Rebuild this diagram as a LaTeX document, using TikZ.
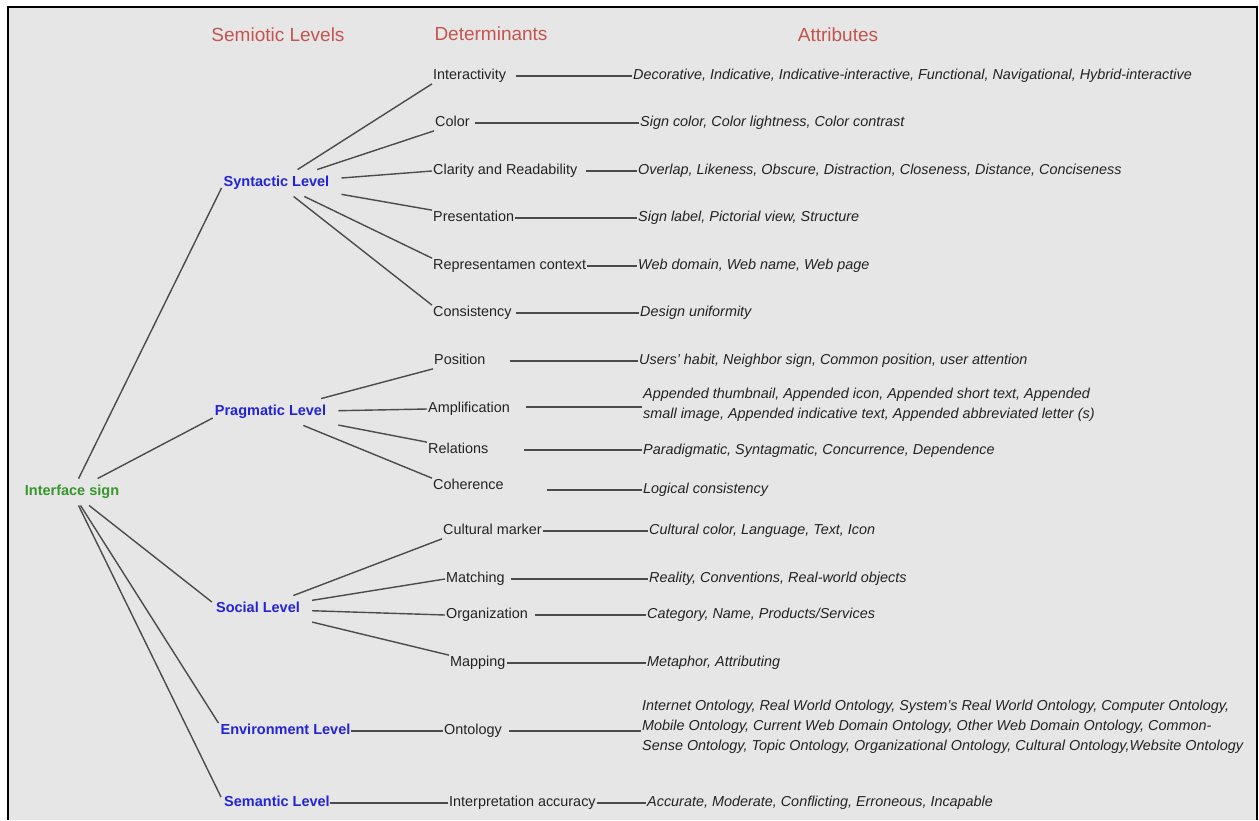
\documentclass[tikz,border=0pt]{standalone}
\usepackage{fontspec}
\setmainfont{Liberation Sans}
\definecolor{hdr}{RGB}{196,84,80}
\definecolor{lvl}{RGB}{35,35,215}
\definecolor{grn}{RGB}{55,150,45}
\definecolor{bg}{RGB}{230,230,230}
\definecolor{ln}{RGB}{75,75,75}
\definecolor{txt}{RGB}{35,35,35}
\begin{document}
\begin{tikzpicture}[x=1pt,y=-1pt,
  hdrnode/.style={font=\fontsize{19}{22}\selectfont, text=hdr, inner sep=0pt},
  lvlnode/.style={font=\bfseries\fontsize{14.5}{16}\selectfont, text=lvl, inner xsep=12pt, inner ysep=6.5pt, text height=10.5pt, text depth=3pt},
  rootnode/.style={lvlnode, text=grn},
  detnode/.style={font=\fontsize{14.4}{16}\selectfont, text=txt, inner sep=1pt, anchor=west, text height=10.3pt, text depth=3pt},
  attrnode/.style={font=\itshape\fontsize{14.4}{16}\selectfont, text=txt, inner sep=1pt, anchor=west, text height=10.3pt, text depth=3pt},
  attrmulti/.style={font=\itshape\fontsize{14.4}{20}\selectfont, text=txt, inner sep=1pt, anchor=west, align=left},
  conn/.style={draw=ln, line width=1.4pt},
]
\useasboundingbox (0,0) rectangle (1259,820);
\fill[white] (0,0) rectangle (1259,820);
\fill[bg] (8,7) rectangle (1257,820);
\draw[line width=2pt] (8,820) -- (8,7) -- (1257,7) -- (1257,820);

% headers
\node[hdrnode] (hSem) at (278,35) {Semiotic Levels};
\node[hdrnode] (hDet) at (491,34) {Determinants};
\node[hdrnode] (hAtt) at (838,35) {Attributes};

% root and levels
\node[rootnode] (root) at (72,492) {Interface sign};
\node[lvlnode] (syn) at (276.5,183) {Syntactic Level};
\node[lvlnode] (prag) at (270.5,412) {Pragmatic Level};
\node[lvlnode] (soc) at (258,609) {Social Level};
\node[lvlnode] (env) at (285.5,731) {Environment Level};
\node[lvlnode] (sem) at (277,803) {Semantic Level};

% determinants
\node[detnode] (int) at (432,76) {Interactivity};
\node[detnode] (col) at (434,123) {Color};
\node[detnode] (cla) at (432,171) {Clarity and Readability};
\node[detnode] (pre) at (432,218) {Presentation};
\node[detnode] (rep) at (432,266) {Representamen context};
\node[detnode] (con) at (432,313) {Consistency};
\node[detnode] (pos) at (433,361) {Position};
\node[detnode] (amp) at (427,409) {Amplification};
\node[detnode] (rel) at (427,450) {Relations};
\node[detnode] (coh) at (432,486) {Coherence};
\node[detnode] (cul) at (442,531) {Cultural marker};
\node[detnode] (mat) at (445,579) {Matching};
\node[detnode] (org) at (445,615) {Organization};
\node[detnode] (map) at (449,663) {Mapping};
\node[detnode] (ont) at (443,731) {Ontology};
\node[detnode] (inp) at (448,803) {Interpretation accuracy};

% attributes
\node[attrnode] (intA) at (632,76) {Decorative, Indicative, Indicative-interactive, Functional, Navigational, Hybrid-interactive};
\node[attrnode] (colA) at (639,123) {Sign color, Color lightness, Color contrast};
\node[attrnode] (claA) at (637,171) {Overlap, Likeness, Obscure, Distraction, Closeness, Distance, Conciseness};
\node[attrnode] (preA) at (637,218) {Sign label, Pictorial view, Structure};
\node[attrnode] (repA) at (637,266) {Web domain, Web name, Web page};
\node[attrnode] (conA) at (639,313) {Design uniformity};
\node[attrnode] (posA) at (638,361) {Users' habit, Neighbor sign, Common position, user attention};
\node[attrmulti] (ampA) at (642,405) {Appended thumbnail, Appended icon, Appended short text, Appended\\small image, Appended indicative text, Appended abbreviated letter (s)};
\node[attrnode] (relA) at (642,451) {Paradigmatic, Syntagmatic, Concurrence, Dependence};
\node[attrnode] (cohA) at (642,490) {Logical consistency};
\node[attrnode] (culA) at (648,531) {Cultural color, Language, Text, Icon};
\node[attrnode] (matA) at (648,579) {Reality, Conventions, Real-world objects};
\node[attrnode] (orgA) at (646,615) {Category, Name, Products/Services};
\node[attrnode] (mapA) at (646,663) {Metaphor, Attributing};
\node[attrmulti] (ontA) at (641,727) {Internet Ontology, Real World Ontology, System's Real World Ontology, Computer Ontology,\\Mobile Ontology, Current Web Domain Ontology, Other Web Domain Ontology, Common-\\Sense Ontology, Topic Ontology, Organizational Ontology, Cultural Ontology,Website Ontology};
\node[attrnode] (inpA) at (646,803) {Accurate, Moderate, Conflicting, Erroneous, Incapable};

% root to levels
\draw[conn] (root) -- ([xshift=10pt,yshift=-5pt]syn.west);
\draw[conn] (root) -- ([xshift=10pt,yshift=-6pt]prag.west);
\draw[conn] (root) -- ([xshift=8pt,yshift=7pt]soc.west);
\draw[conn] (root) -- ([xshift=10pt,yshift=8pt]env.west);
\draw[conn] (root) -- ([xshift=9pt,yshift=6pt]sem.west);

% levels to determinants
\draw[conn] (syn) -- (int.south west);
\draw[conn] (syn) -- (col.south west);
\draw[conn] (syn) -- (cla.west);
\draw[conn] (syn) -- (pre.north west);
\draw[conn] (syn) -- (rep.north west);
\draw[conn] (syn) -- (con.north west);
\draw[conn] (prag) -- (pos.south west);
\draw[conn] (prag) -- (amp.west);
\draw[conn] (prag) -- (rel.north west);
\draw[conn] (prag) -- (coh.north west);
\draw[conn] (soc) -- (cul.south west);
\draw[conn] (soc) -- (mat.west);
\draw[conn] (soc) -- (org.west);
\draw[conn] (soc) -- (map.north west);
\draw[conn] ([xshift=-12pt]env.east) -- (ont.west);
\draw[conn] ([xshift=-12pt]sem.east) -- (inp.west);

% determinants to attributes
\draw[conn, shorten <=9pt] (int.east) -- (int.east -| intA.west);
\draw[conn, shorten <=4pt] (col.east) -- (col.east -| colA.west);
\draw[conn, shorten <=8pt] (cla.east) -- (cla.east -| claA.west);
\draw[conn] (pre.east) -- (pre.east -| preA.west);
\draw[conn] (rep.east) -- (rep.east -| repA.west);
\draw[conn, shorten <=3pt] (con.east) -- (con.east -| conA.west);
\draw[conn, shorten <=23pt] (pos.east) -- (pos.east -| posA.west);
\draw[conn, shorten <=15pt] ([yshift=2pt]amp.east) -- ([yshift=2pt]amp.east -| ampA.west);
\draw[conn, shorten <=35pt] (rel.east) -- (rel.east -| relA.west);
\draw[conn, shorten <=42pt] (cohA.west -| coh.east) -- (cohA.west);
\draw[conn] (cul.east) -- (cul.east -| culA.west);
\draw[conn, shorten <=5pt] (mat.east) -- (mat.east -| matA.west);
\draw[conn, shorten <=6pt] (org.east) -- (org.east -| orgA.west);
\draw[conn] (map.east) -- (map.east -| mapA.west);
\draw[conn, shorten <=6pt] (ont.east) -- (ont.east -| ontA.west);
\draw[conn] (inp.east) -- (inp.east -| inpA.west);
\end{tikzpicture}
\end{document}
